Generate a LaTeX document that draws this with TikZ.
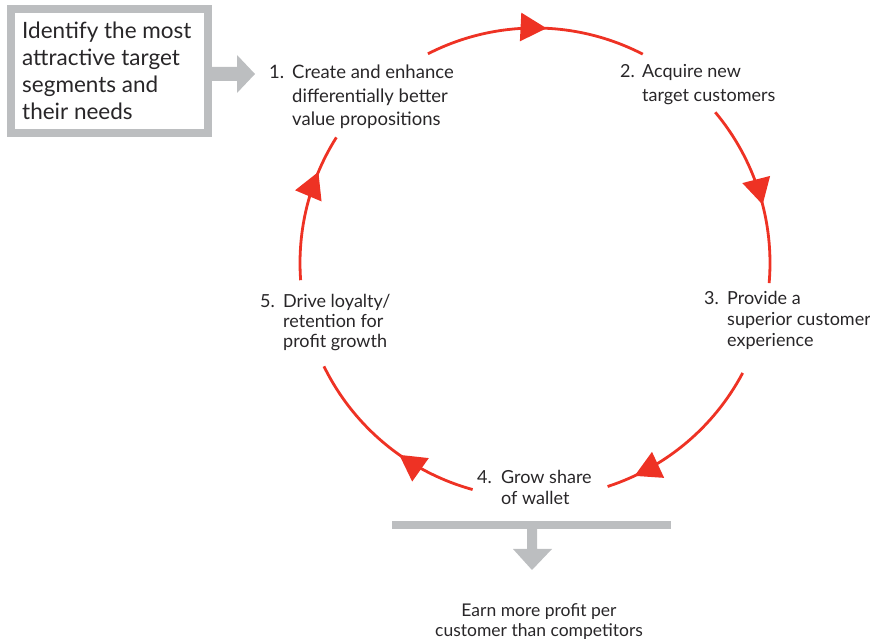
\documentclass[tikz,border=0pt]{standalone}
\usepackage{fontspec}
\setmainfont{Lato}
\usetikzlibrary{arrows.meta,decorations.markings}
\definecolor{cred}{RGB}{238,50,36}
\definecolor{cgray}{RGB}{188,190,192}
\definecolor{ctext}{RGB}{40,38,40}
\newcommand\nb[1]{\makebox[23pt][l]{#1}}
\begin{document}
\begin{tikzpicture}[x=1pt,y=1pt,
  lbl/.style={anchor=base west, inner sep=0pt, text=ctext},
  cyc/.style={draw=cred, line width=2.8pt},
  tipmark/.style={postaction={decorate}, decoration={markings,
     mark=at position #1 with {\arrow[cred]{Triangle[length=26pt,width=28pt]}}}},
  graybox/.style={draw=cgray, line width=8pt, minimum width=197pt, minimum height=124pt,
     inner sep=0pt, text=ctext},
]
\useasboundingbox (0,0) rectangle (870,639);
\coordinate (C) at (535,376);

% labels
\node[lbl] (s1) at (269,560) {\fontsize{18.5}{23.5}\selectfont
  \begin{tabular}[t]{@{}l@{}l@{}}\nb{1.}&Create and enhance\\ &differentially better\\ &value propositions\end{tabular}};
\node[lbl] (s2) at (620,561) {\fontsize{18}{24}\selectfont
  \begin{tabular}[t]{@{}l@{}l@{}}\makebox[22pt][l]{2.}&Acquire new\\ &target customers\end{tabular}};
\node[lbl] (s3) at (704,334) {\fontsize{18}{21}\selectfont
  \begin{tabular}[t]{@{}l@{}l@{}}\nb{3.}&Provide a\\ &superior customer\\ &experience\end{tabular}};
\node[lbl] (s4) at (477,155) {\fontsize{18}{21}\selectfont
  \begin{tabular}[t]{@{}l@{}l@{}}\makebox[24pt][l]{4.}&Grow share\\ &of wallet\end{tabular}};
\node[lbl] (s5) at (260,331) {\fontsize{18}{20}\selectfont
  \begin{tabular}[t]{@{}l@{}l@{}}\nb{5.}&Drive loyalty/\\ &retention for\\ &profit growth\end{tabular}};

% cycle arcs
\coordinate (a1) at ([shift={(C)}]117.1:235pt);
\coordinate (b1) at ([shift={(C)}]39.9:235pt);
\coordinate (c1) at ([shift={(C)}]-27.9:235pt);
\coordinate (d1) at ([shift={(C)}]254.6:235pt);
\coordinate (e1) at ([shift={(C)}]184.2:235pt);
\draw[cyc, tipmark=0.55] (a1) arc[start angle=117.1, end angle=62.7, radius=235pt];
\draw[cyc, tipmark=0.57] (b1) arc[start angle=39.9, end angle=-4.9, radius=235pt];
\draw[cyc, tipmark=0.84] (c1) arc[start angle=-27.9, end angle=-72, radius=235pt];
\draw[cyc, tipmark=0.41] (d1) arc[start angle=254.6, end angle=206.1, radius=235pt];
\draw[cyc, tipmark=0.74] (e1) arc[start angle=184.2, end angle=147.7, radius=235pt];

% input box
\node[graybox] (box) at (109.5,568) {};
\node[anchor=base west, inner sep=0pt, text=ctext] (boxtext) at (22,600)
  {\fontsize{22.5}{27}\selectfont
  \begin{tabular}[t]{@{}l@{}}Identify the most\\attractive target\\segments and\\their needs\end{tabular}};
\fill[cgray] ([yshift=4pt]box.east) -- ++(25,0) -- ++(0,12) -- ++(18,-19)
  -- ++(-18,-19) -- ++(0,12) -- ([yshift=-10pt]box.east) -- cycle;

% output bar and arrow
\coordinate (barL) at (392,113.5);
\coordinate (barR) at (671,113.5);
\draw[cgray, line width=8pt] (barL) -- (barR);
\fill[cgray] (527,110) -- (537,110) -- (537,90) -- (552,90) -- (532,69)
  -- (513,90) -- (527,90) -- cycle;
\node[anchor=base, inner sep=0pt, text=ctext] (earn) at (539,22) {\fontsize{17.5}{19.5}\selectfont
  \begin{tabular}[t]{@{}c@{}}Earn more profit per\\customer than competitors\end{tabular}};
\end{tikzpicture}
\end{document}
